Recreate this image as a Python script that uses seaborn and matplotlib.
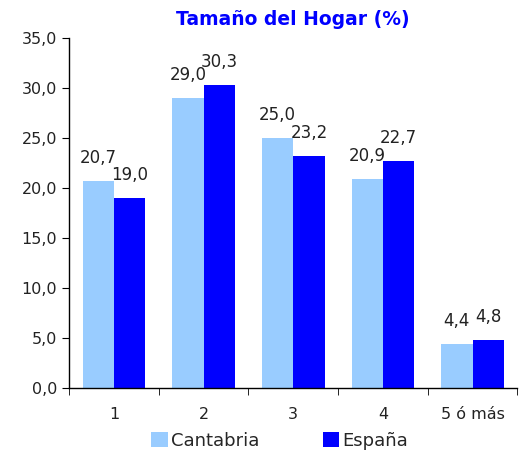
import pandas as pd
import matplotlib.pyplot as plt
import seaborn as sb
from matplotlib.ticker import FuncFormatter, FixedLocator

# household size categories and shares (%)
categories = ['1', '2', '3', '4', '5 ó más']
cantabria = [20.7, 29.0, 25.0, 20.9, 4.4]
espana = [19.0, 30.3, 23.2, 22.7, 4.8]

df = pd.DataFrame({
    'Tamaño': categories * 2,
    'Serie': ['Cantabria'] * 5 + ['España'] * 5,
    'Valor': cantabria + espana,
})

sb.set_style('white')
plt.rcParams['font.family'] = ['DejaVu Sans']

fig = plt.figure(figsize=(5.2, 4.5), dpi=100)
ax = fig.add_axes([0.133, 0.138, 0.862, 0.778])

sb.barplot(data=df, x='Tamaño', y='Valor', hue='Serie',
           palette=['#99ccff', '#0000ff'], width=0.7, saturation=1,
           linewidth=0, ax=ax, legend=True)

# value labels with comma decimals
for cont in ax.containers:
    ax.bar_label(cont, labels=[f'{v:.1f}'.replace('.', ',') for v in cont.datavalues],
                 padding=10, fontsize=12, color='#222222')

ax.set_ylim(0, 35)
ax.set_yticks(range(0, 36, 5))
ax.yaxis.set_major_formatter(FuncFormatter(lambda v, p: f'{v:.1f}'.replace('.', ',')))
ax.set_xlim(-0.5, 4.5)
ax.xaxis.set_minor_locator(FixedLocator([-0.5, 0.5, 1.5, 2.5, 3.5, 4.5]))
ax.tick_params(axis='x', which='major', length=0, pad=14, labelsize=11.5, labelcolor='#222222')
ax.tick_params(axis='x', which='minor', length=5, direction='out', color='black', bottom=True)
ax.tick_params(axis='y', length=5, direction='out', color='black', left=True,
               labelsize=11.5, labelcolor='#222222')

ax.set_xlabel('')
ax.set_ylabel('')
sb.despine(ax=ax)
for s in ['left', 'bottom']:
    ax.spines[s].set_color('black')
    ax.spines[s].set_linewidth(1)

ax.set_title('Tamaño del Hogar (%)', color='#0000ff', fontweight='bold',
             fontsize=13.5, pad=9)

ax.legend(loc='upper center', bbox_to_anchor=(0.47, -0.1), ncol=2, frameon=False,
          fontsize=13, handlelength=0.9, handleheight=0.9, handletextpad=0.2,
          columnspacing=3.5, borderpad=0)

fig.savefig('out.png', dpi=100)
